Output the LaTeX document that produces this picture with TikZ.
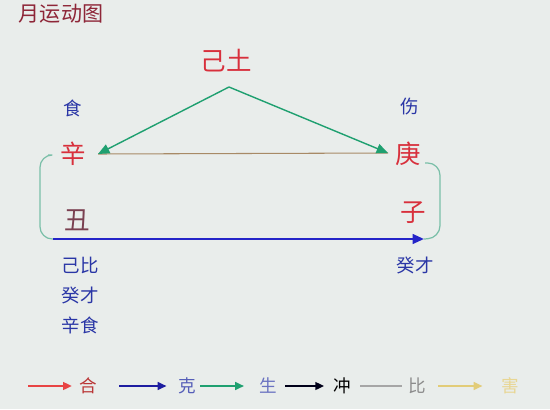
\documentclass[tikz,border=0pt]{standalone}
\usepackage{fontspec}
\setmainfont{Noto Sans CJK SC}
\usetikzlibrary{arrows.meta}
\definecolor{bgcol}{HTML}{E9EDEB}
\definecolor{titlered}{HTML}{8E2638}
\definecolor{ganred}{HTML}{D8303C}
\definecolor{chouc}{HTML}{7A4050}
\definecolor{shenblue}{HTML}{2A36A6}
\definecolor{shenggreen}{HTML}{1FA070}
\definecolor{kehblue}{HTML}{2424C8}
\definecolor{bibrown}{HTML}{A88A66}
\definecolor{bracketc}{HTML}{7ABFA8}
\definecolor{legred}{HTML}{E84444}
\definecolor{legyellow}{HTML}{E2CC78}

\begin{document}
\begin{tikzpicture}[x=0.02cm,y=-0.02cm,
  gan/.style={text=ganred,font=\fontsize{14.5pt}{14.5pt}\selectfont},
  shen/.style={text=shenblue,font=\fontsize{10.5pt}{10.5pt}\selectfont},
  leg/.style={font=\fontsize{10pt}{10pt}\selectfont},
  tip/.style={-{Triangle[length=6.5pt,width=5.5pt]}},
  legtip/.style={-{Triangle[length=5pt,width=4.5pt]},line width=0.9pt}]
\tikzstyle{every node}+=[inner sep=0pt]
\fill [bgcol] (0,0) rectangle (550,409);
\useasboundingbox (0,0) rectangle (550,409);
\node [text=titlered,font=\fontsize{12pt}{12pt}\selectfont] (title) at (61,14) {月运动图};
\node [gan] (jitu) at (226,61) {己土};
\node [shen] (shi) at (73,108) {食};
\node [shen] (shang) at (410,107) {伤};
\node [gan] (xin) at (73,154) {辛};
\node [gan] (geng) at (408,154) {庚};
\node [gan,text=chouc] (chou) at (77,220) {丑};
\node [gan] (zi) at (413,213) {子};
\node [shen] (jibi) at (80,265) {己比};
\node [shen] (guicai) at (80,295) {癸才};
\node [shen] (xinshi) at (80,325) {辛食};
\node [shen] (zigui) at (415,265) {癸才};
\coordinate (apex) at (229,87);
\coordinate (xinend) at (98,154);
\coordinate (gengend) at (388,153);
\coordinate (choustart) at (53,239);
\coordinate (ziend) at (424,239);
% bi line and sheng arrows
\draw [bibrown,line width=0.6pt] (xinend) -- (gengend);
\draw [shenggreen,line width=0.8pt,tip] (apex) -- (xinend);
\draw [shenggreen,line width=0.8pt,tip] (apex) -- (gengend);
% brackets
\draw [bracketc,line width=0.7pt,rounded corners=7] (48,155) -| (40,239) -- (choustart);
\draw [bracketc,line width=0.7pt,rounded corners=7] (425,163) -| (440,238) -- (ziend);
% ke arrow
\draw [kehblue,line width=1.3pt,tip] (choustart) -- (ziend);
% legend
\node [leg,text=legred!80!black] (lhe) at (88,386) {合};
\node [leg,text=shenblue!80] (lke) at (187,386) {克};
\node [leg,text=shenblue!70] (lsheng) at (268,386) {生};
\node [leg,text=black] (lchong) at (342,386) {冲};
\node [leg,text=black!45] (lbi) at (417,386) {比};
\node [leg,text=legyellow!80!white] (lhai) at (510,386) {害};
\coordinate (ahe) at (28,386);
\coordinate (ake) at (119,386);
\coordinate (asheng) at (200,386);
\coordinate (achong) at (285,386);
\coordinate (abi) at (360,386);
\coordinate (ahai) at (438,386);
\draw [legred,legtip,shorten >=4pt] (ahe) -- (lhe);
\draw [kehblue!80!black,legtip,shorten >=6.5pt] (ake) -- (lke);
\draw [shenggreen,legtip,shorten >=8.5pt] (asheng) -- (lsheng);
\draw [black!90!blue,legtip,shorten >=5pt] (achong) -- (lchong);
\draw [black!35,line width=0.6pt,shorten >=3.5pt] (abi) -- (lbi);
\draw [legyellow,legtip,shorten >=10.5pt] (ahai) -- (lhai);
\end{tikzpicture}
\end{document}
